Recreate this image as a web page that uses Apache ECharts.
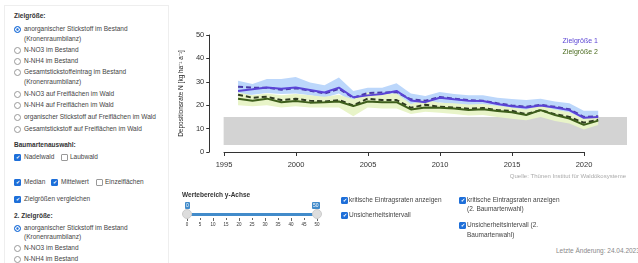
<!DOCTYPE html>
<html>
<head>
<meta charset="utf-8">
<script src="https://cdn.jsdelivr.net/npm/echarts@6/dist/echarts.min.js"></script>
<style>
body { margin:0; width:638px; height:263px; overflow:hidden; background:#fff; position:relative;
  font-family:"Liberation Sans", Arial, sans-serif; font-size:6.5px; color:#444; }
.t { position:absolute; white-space:nowrap; line-height:8px; }
.b { font-weight:bold; color:#333; }
.rd, .cb { position:absolute; box-sizing:border-box; width:7px; height:7px; border:1px solid #999; background:#fff; }
.rd { border-radius:50%; }
.rd.on { border:1px solid #1e6fd9; background:#1e6fd9; box-shadow:inset 0 0 0 1.3px #fff; }
.cb { border-radius:1px; }
.cb.on { border-color:#1e6fd9; background:#1e6fd9; color:#fff; font-size:5px; line-height:5px; text-align:center; }
#card { position:absolute; left:4px; top:5px; width:163px; height:270px; border:1px solid #eee; }
#chart { position:absolute; left:170px; top:20px; width:468px; height:180px; }
.trk { position:absolute; left:187px; top:213px; width:130px; height:3px; background:#428bca; }
.hd { position:absolute; width:10px; height:10px; border-radius:50%; background:#ddd; border:1px solid #ccc; box-sizing:border-box; }
.hl { position:absolute; background:#428bca; color:#fff; font-size:5px; line-height:7px; padding:0 1px; border-radius:1px; }
.tk { position:absolute; width:1px; background:#666; }
.tl { position:absolute; font-size:4.5px; color:#333; width:10px; text-align:center; }
</style>
</head>
<body>
<div id="card"></div>
<div class="t b" style="left:14px;top:12px">Zielgröße:</div>
<div class="rd on" style="left:14px;top:26px"></div><div class="t" style="left:24px;top:25px">anorganischer Stickstoff im Bestand</div>
<div class="t" style="left:24px;top:35px">(Kronenraumbilanz)</div>
<div class="rd" style="left:14px;top:47px"></div><div class="t" style="left:24px;top:46px">N-NO3 im Bestand</div>
<div class="rd" style="left:14px;top:58px"></div><div class="t" style="left:24px;top:57px">N-NH4 im Bestand</div>
<div class="rd" style="left:14px;top:69px"></div><div class="t" style="left:24px;top:68px">Gesamtstickstoffeintrag im Bestand</div>
<div class="t" style="left:24px;top:78px">(Kronenraumbilanz)</div>
<div class="rd" style="left:14px;top:91px"></div><div class="t" style="left:24px;top:90px">N-NO3 auf Freiflächen im Wald</div>
<div class="rd" style="left:14px;top:102px"></div><div class="t" style="left:24px;top:101px">N-NH4 auf Freiflächen im Wald</div>
<div class="rd" style="left:14px;top:114px"></div><div class="t" style="left:24px;top:113px">organischer Stickstoff auf Freiflächen im Wald</div>
<div class="rd" style="left:14px;top:126px"></div><div class="t" style="left:24px;top:125px">Gesamtstickstoff auf Freiflächen im Wald</div>
<div class="t b" style="left:14px;top:141px">Baumartenauswahl:</div>
<div class="cb on" style="left:14px;top:154px">✔</div><div class="t" style="left:24px;top:153px">Nadelwald</div>
<div class="cb" style="left:61px;top:154px"></div><div class="t" style="left:70px;top:153px">Laubwald</div>
<div class="cb on" style="left:14px;top:179px">✔</div><div class="t" style="left:24px;top:178px">Median</div>
<div class="cb on" style="left:51px;top:179px">✔</div><div class="t" style="left:61px;top:178px">Mittelwert</div>
<div class="cb" style="left:96px;top:179px"></div><div class="t" style="left:105px;top:178px">Einzelflächen</div>
<div class="cb on" style="left:14px;top:196px">✔</div><div class="t" style="left:24px;top:195px">Zielgrößen vergleichen</div>
<div class="t b" style="left:14px;top:212px">2. Zielgröße:</div>
<div class="rd on" style="left:14px;top:225px"></div><div class="t" style="left:24px;top:224px">anorganischer Stickstoff im Bestand</div>
<div class="t" style="left:24px;top:233px">(Kronenraumbilanz)</div>
<div class="rd" style="left:14px;top:245px"></div><div class="t" style="left:24px;top:244px">N-NO3 im Bestand</div>
<div class="rd" style="left:14px;top:256px"></div><div class="t" style="left:24px;top:255px">N-NH4 im Bestand</div>

<div id="chart"></div>

<div class="t b" style="left:182px;top:191px">Wertebereich y-Achse</div>
<div class="trk"></div>
<div id="slider"></div>
<div class="cb on" style="left:341px;top:197px">✔</div><div class="t" style="left:349px;top:196px">kritische Eintragsraten anzeigen</div>
<div class="cb on" style="left:341px;top:212px">✔</div><div class="t" style="left:349px;top:211px">Unsicherheitsintervall</div>
<div class="cb on" style="left:459px;top:197px">✔</div><div class="t" style="left:467px;top:196px">kritische Eintragsraten anzeigen</div>
<div class="t" style="left:467px;top:205px">(2. Baumartenwahl)</div>
<div class="cb on" style="left:459px;top:222px">✔</div><div class="t" style="left:467px;top:221px">Unsicherheitsintervall (2.</div>
<div class="t" style="left:467px;top:231px">Baumartenwahl)</div>
<div class="t" style="left:556px;top:247px;color:#888">Letzte Änderung: 24.04.2023</div>

<script>
// Jahre
var years = [1996, 1997, 1998, 1999, 2000, 2001, 2002, 2003, 2004, 2005, 2006, 2007, 2008,
             2009, 2010, 2011, 2012, 2013, 2014, 2015, 2016, 2017, 2018, 2019, 2020, 2021];

// Zielgröße 1
var med1 = [26.1, 26.8, 27.6, 27.0, 27.6, 26.5, 25.4, 27.5, 23.4, 24.2, 24.8, 26.1, 22.0,
            21.3, 23.2, 22.5, 21.9, 21.8, 20.5, 19.6, 19.0, 19.9, 19.0, 17.9, 14.6, 15.0];
var mean1 = [27.9, 27.5, 27.5, 26.6, 27.2, 26.2, 25.0, 27.0, 23.2, 25.2, 25.4, 25.6, 22.5,
             21.9, 23.5, 22.8, 22.2, 21.9, 20.8, 19.9, 19.3, 20.2, 19.3, 18.3, 15.0, 15.3];
var hi1 = [30.4, 29.1, 31.2, 31.2, 32.0, 29.7, 28.5, 31.8, 26.1, 27.5, 27.5, 29.4, 25.0,
           23.9, 25.6, 24.8, 24.2, 24.2, 23.2, 22.6, 22.2, 22.8, 21.6, 20.8, 17.6, 17.6];
var lo1 = [24.0, 24.5, 25.2, 24.8, 25.0, 24.2, 23.2, 25.0, 21.2, 22.0, 22.6, 23.6, 20.0,
           19.4, 21.2, 20.5, 20.0, 19.9, 18.7, 17.8, 17.2, 18.0, 17.2, 16.2, 13.2, 13.6];

// Zielgröße 2
var med2 = [22.8, 21.9, 22.8, 21.3, 21.8, 21.1, 21.3, 21.6, 19.6, 21.6, 21.3, 21.3, 18.2,
            19.0, 18.9, 18.6, 17.9, 18.3, 17.5, 17.0, 15.8, 17.9, 15.8, 14.3, 11.6, 13.4];
var mean2 = [24.5, 23.2, 23.6, 22.2, 22.8, 21.9, 21.6, 22.2, 19.9, 22.8, 22.2, 22.2, 18.9,
             20.2, 19.3, 19.0, 18.5, 18.8, 17.9, 17.6, 16.2, 17.9, 16.2, 15.0, 12.5, 13.8];
var hi2 = [25.4, 24.2, 25.0, 24.2, 24.8, 24.2, 23.6, 24.5, 22.5, 25.4, 24.8, 25.0, 20.5,
           22.2, 21.0, 20.8, 20.3, 20.5, 19.8, 19.0, 18.2, 19.9, 18.2, 17.0, 14.2, 15.9];
var lo2 = [20.0, 19.6, 20.0, 19.0, 19.6, 19.0, 19.0, 19.0, 15.3, 19.0, 18.6, 18.6, 16.2,
           17.2, 16.8, 16.2, 15.6, 15.8, 15.0, 14.2, 13.6, 15.0, 13.3, 12.2, 9.6, 11.5];

// kritische Eintragsraten (von, bis) und Zeitraum
var critRange = [3, 15];
var critYears = [1995, 2023];

var xTicks = [1995, 2000, 2005, 2010, 2015, 2020];
var yTicks = [0, 10, 20, 30, 40, 50];
var sliderTicks = [0, 5, 10, 15, 20, 25, 30, 35, 40, 45, 50];

// Slider unter dem Diagramm
var sl = document.getElementById('slider');
var html = '';
for (var i = 0; i < sliderTicks.length; i++) {
    var x = 187 + i * 13;
    html += '<div class="tk" style="left:' + x + 'px;top:218px;height:' + (i % 2 == 0 ? 3 : 2) + 'px"></div>';
    html += '<div class="tl" style="left:' + (x - 5) + 'px;top:222px">' + sliderTicks[i] + '</div>';
}
html += '<div class="hd" style="left:182px;top:209px"></div>';
html += '<div class="hd" style="left:312px;top:209px"></div>';
html += '<div class="hl" style="left:185px;top:202px">' + sliderTicks[0] + '</div>';
html += '<div class="hl" style="left:312px;top:202px">' + sliderTicks[sliderTicks.length - 1] + '</div>';
sl.innerHTML = html;

function pairs(vals) {
    var out = [];
    for (var i = 0; i < years.length; i++) out.push([years[i], vals[i]]);
    return out;
}

function band(lo, hi, color) {
    var d = [];
    for (var i = 0; i < years.length; i++) d.push([years[i], lo[i], hi[i]]);
    return {
        type: 'custom',
        silent: true,
        z: 1,
        data: d,
        encode: { x: 0, y: [1, 2] },
        renderItem: function(params, api) {
            if (params.dataIndex !== 0) return null;
            var pts = [];
            for (var i = 0; i < years.length; i++) pts.push(api.coord([years[i], hi[i]]));
            for (var j = years.length - 1; j >= 0; j--) pts.push(api.coord([years[j], lo[j]]));
            return { type: 'polygon', shape: { points: pts }, style: { fill: color } };
        }
    };
}

function line(name, vals, color, dashed) {
    return {
        name: name,
        type: 'line',
        z: 3,
        data: pairs(vals),
        symbol: 'none',
        color: color,
        lineStyle: { width: 2, color: color, type: dashed ? [5, 3] : 'solid' }
    };
}

var myChart = echarts.init(document.getElementById('chart'));
var axisFont = { fontSize: 7.5, color: '#333', fontFamily: 'Liberation Sans' };

var option = {
    animation: false,
    grid: [
        { left: 39, top: 15, right: 11, height: 117 },
        { left: 54, top: 15, width: 360, height: 117 }
    ],
    xAxis: [
        { gridIndex: 0, type: 'value', min: 1994, max: 2023, show: false },
        {
            gridIndex: 1, type: 'value', min: xTicks[0], max: xTicks[xTicks.length - 1], interval: 5,
            offset: 4,
            axisLine: { lineStyle: { color: '#333', width: 1 } },
            axisTick: { length: 4, lineStyle: { color: '#333' } },
            axisLabel: Object.assign({ margin: 5, formatter: function(v) { return String(v); } }, axisFont),
            splitLine: { show: false }
        }
    ],
    yAxis: [
        {
            gridIndex: 0, type: 'value', min: yTicks[0], max: yTicks[yTicks.length - 1], interval: 10,
            name: 'Depositionsrate N [kg ha⁻¹ a⁻¹]',
            nameLocation: 'middle', nameGap: 23,
            nameTextStyle: { fontSize: 6.5, color: '#222', fontFamily: 'Liberation Sans' },
            axisLine: { show: true, lineStyle: { color: '#333' } },
            axisTick: { show: true, length: 3, lineStyle: { color: '#333' } },
            axisLabel: Object.assign({ margin: 5 }, axisFont),
            splitLine: { show: false }
        },
        { gridIndex: 1, type: 'value', min: 0, max: 50, show: false }
    ],
    legend: {
        orient: 'vertical', right: 35, top: 13, itemWidth: 0, itemHeight: 0, itemGap: 4,
        selectedMode: false,
        textStyle: { fontSize: 7, fontFamily: 'Liberation Sans' },
        data: [
            { name: 'Zielgröße 1', textStyle: { color: '#5b45d4' } },
            { name: 'Zielgröße 2', textStyle: { color: '#4b6b1f' } }
        ]
    },
    graphic: [{
        type: 'text', right: 12, top: 153,
        style: { text: 'Quelle: Thünen Institut für Waldökosysteme', fill: '#aaa', font: '6px "Liberation Sans"' }
    }],
    series: [
        {
            name: 'kritisch', type: 'line', data: [], z: 0, silent: true,
            markArea: {
                silent: true,
                itemStyle: { color: '#d3d3d3' },
                data: [[{ xAxis: critYears[0], yAxis: critRange[0] }, { xAxis: critYears[1], yAxis: critRange[1] }]]
            }
        },
        band(lo1, hi1, '#bcd7fb'),
        band(lo2, hi2, '#e8f4c8'),
        line('Zielgröße 2', mean2, '#2f3b22', true),
        line('Zielgröße 2', med2, '#3d5d1b', false),
        line('Zielgröße 1', mean1, '#4a3aa8', true),
        line('Zielgröße 1', med1, '#5a44d6', false)
    ]
};
myChart.setOption(option);
</script>
</body>
</html>
